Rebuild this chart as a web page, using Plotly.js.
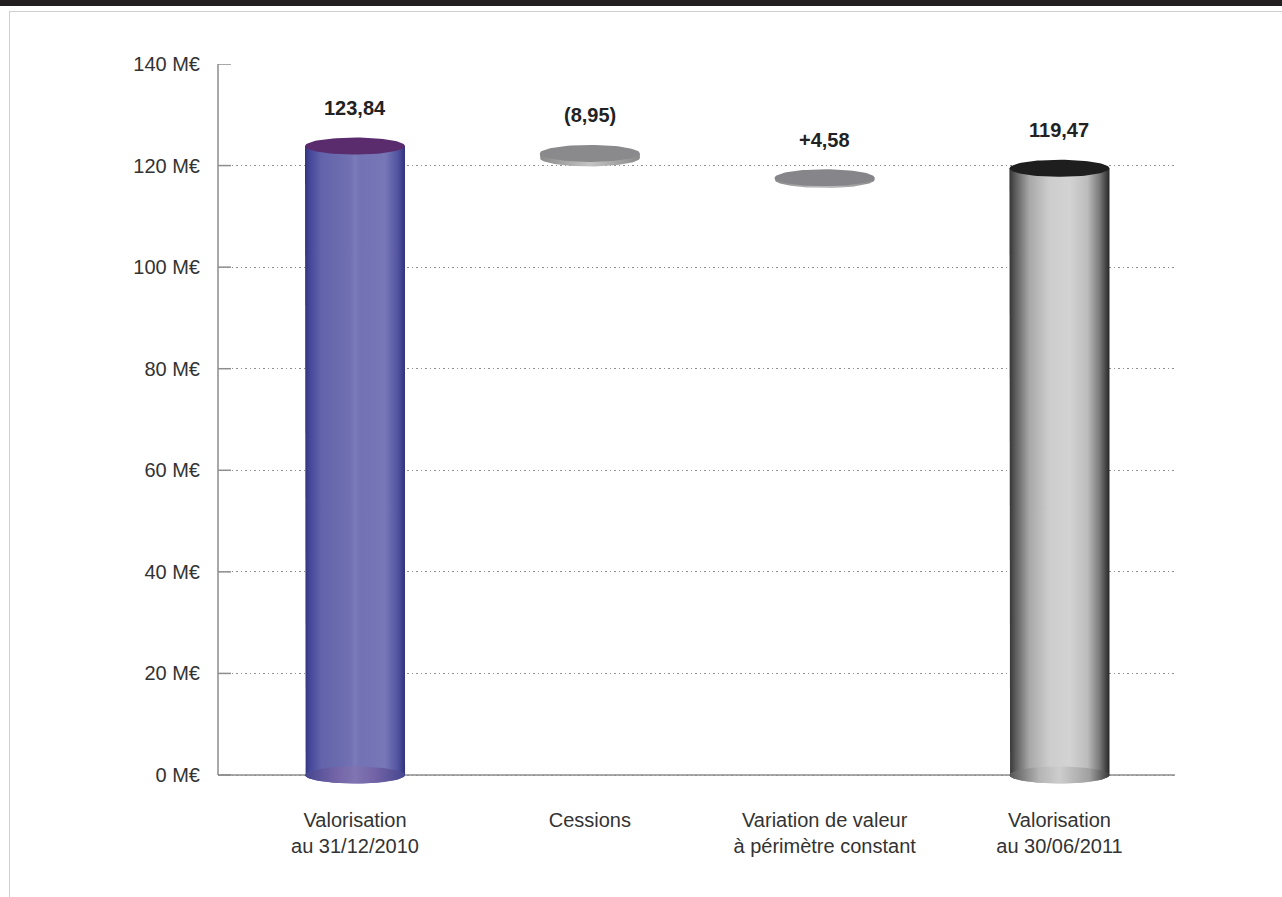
<!DOCTYPE html>
<html>
<head>
<meta charset="utf-8">
<script src="https://cdn.plot.ly/plotly-3.0.1.min.js"></script>
<style>
  html, body { margin: 0; padding: 0; background: #fff; }
  #topband { position: absolute; left: 0; top: 0; width: 1282px; height: 6px; background: #231f20; }
  #frame { position: absolute; left: 9px; top: 11px; width: 1273px; height: 886px;
           border-left: 1.5px solid #cfcfcf; border-top: 1.5px solid #cfcfcf; box-sizing: border-box; }
  #chart { position: absolute; left: 0; top: 0; width: 1282px; height: 897px; }
</style>
</head>
<body>
<div id="topband"></div>
<div id="frame"></div>
<div id="chart"></div>
<script>
// Bridge of the portfolio valuation (M€)
const categories = [
  'Valorisation<br>au 31/12/2010',
  'Cessions',
  'Variation de valeur<br>à périmètre constant',
  'Valorisation<br>au 30/06/2011'
];
const kinds = ['total', 'change', 'change', 'total'];
const values = [123.84, -8.95, 4.58, 119.47];
// height at which each change disc floats
const discLevels = [null, 122.4, 117.6, null];
const yTicks = [0, 20, 40, 60, 80, 100, 120, 140];
const yTickText = yTicks.map(v => v + ' M€');

// styling constants
const FONT = 'Liberation Sans, Arial, Helvetica, sans-serif';
const RX = 0.213;   // cylinder half width (x units)
const RY = 1.674;   // ellipse half height (y units)
const DISC_THICK = [0, 0.9, 0.35, 0];
const AXIS_GREY = '#8c8c8c';

const bodyScales = [
  [[0, '#33347e'], [0.05, '#45479a'], [0.16, '#6263aa'], [0.45, '#7070b2'], [0.5, '#7b7bba'],
   [0.55, '#7272b4'], [0.8, '#7777b8'], [0.93, '#5253a0'], [1, '#31327c']],
  null, null,
  [[0, '#353535'], [0.06, '#5c5c5c'], [0.2, '#a8a8a8'], [0.4, '#cdcdcd'], [0.6, '#d3d3d3'],
   [0.78, '#bcbcbc'], [0.9, '#7a7a7a'], [1, '#262626']]
];
const baseScales = [
  [[0, '#46468f'], [0.3, '#7263a6'], [0.5, '#8074b2'], [0.7, '#7263a6'], [1, '#46468f']],
  null, null,
  [[0, '#555'], [0.3, '#b5b5b5'], [0.5, '#cdcdcd'], [0.8, '#a0a0a0'], [1, '#383838']]
];
const capColors = ['#5a2c6d', '#8a8a8c', '#86868a', '#1e1e1e'];
const discEdge = [[0, '#8a8a8a'], [0.5, '#c4c4c4'], [1, '#8a8a8a']];

function ellipse(xc, yc, n = 90) {
  const xs = [], ys = [];
  for (let k = 0; k <= n; k++) {
    const t = 2 * Math.PI * k / n;
    xs.push(xc + RX * Math.cos(t));
    ys.push(yc + RY * Math.sin(t));
  }
  return { xs, ys };
}

// side wall from yBase up to yTop, closed by the lower half of the base ellipse
function wall(xc, yBase, yTop, n = 60) {
  const xs = [xc - RX], ys = [yTop];
  for (let k = 0; k <= n; k++) {
    const t = Math.PI * k / n;
    xs.push(xc - RX * Math.cos(t));
    ys.push(yBase - RY * Math.sin(t));
  }
  xs.push(xc + RX); ys.push(yTop);
  xs.push(xc - RX); ys.push(yTop);
  return { xs, ys };
}

function fillTrace(pts, fill) {
  const tr = { x: pts.xs, y: pts.ys, mode: 'lines', line: { width: 0, color: 'rgba(0,0,0,0)' },
               fill: 'toself', hoverinfo: 'skip', showlegend: false };
  if (Array.isArray(fill)) tr.fillgradient = { type: 'horizontal', colorscale: fill };
  else tr.fillcolor = fill;
  return tr;
}

function fmt(v, kind) {
  const s = Math.abs(v).toFixed(2).replace('.', ',');
  if (kind === 'total') return s;
  return v < 0 ? '(' + s + ')' : '+' + s;
}

const traces = [];
const annotations = [];
values.forEach((v, i) => {
  let top;
  if (kinds[i] === 'total') {
    top = v;
    traces.push(fillTrace(wall(i, 0, top), bodyScales[i]));
    traces.push(fillTrace(ellipse(i, 0), baseScales[i]));
  } else {
    top = discLevels[i];
    traces.push(fillTrace(wall(i, top - DISC_THICK[i], top), discEdge));
  }
  traces.push(fillTrace(ellipse(i, top), capColors[i]));
  annotations.push({
    x: i, y: top, xref: 'x', yref: 'y', text: fmt(v, kinds[i]), showarrow: false,
    yanchor: 'middle', yshift: 38,
    font: { family: FONT, size: 20, color: '#222', weight: 'bold' }
  });
});

// axis lines and the short solid tick stubs on the value axis
const shapes = [
  { type: 'line', xref: 'paper', yref: 'y', x0: 0, x1: 1, y0: 0, y1: 0,
    line: { color: AXIS_GREY, width: 1.5 }, layer: 'below' },
  { type: 'line', xref: 'paper', yref: 'y', x0: 0, x1: 0, y0: 0, y1: 140,
    line: { color: AXIS_GREY, width: 1.5 }, layer: 'below' }
];
yTicks.forEach(v => shapes.push({
  type: 'line', xref: 'paper', xsizemode: 'pixel', xanchor: 0, x0: 0, x1: 13,
  yref: 'y', y0: v, y1: v, line: { color: AXIS_GREY, width: 1.5 }, layer: 'below'
}));

const layout = {
  width: 1282, height: 897,
  margin: { l: 218, r: 107, t: 64, b: 111 },
  paper_bgcolor: 'rgba(0,0,0,0)', plot_bgcolor: 'rgba(0,0,0,0)',
  showlegend: false, hovermode: false,
  xaxis: {
    range: [-0.5835, 3.492], tickmode: 'array', tickvals: [0, 1, 2, 3], ticktext: categories,
    showgrid: false, zeroline: false, showline: false, ticks: '',
    tickfont: { family: FONT, size: 20, color: '#333' }, ticklabelstandoff: 20
  },
  yaxis: {
    range: [-2.166, 140], tickmode: 'array', tickvals: yTicks, ticktext: yTickText,
    ticks: '', showgrid: true, gridcolor: '#8f8f8f', griddash: '1.5px,3px', gridwidth: 1,
    zeroline: false, showline: false,
    tickfont: { family: FONT, size: 20, color: '#333' }, ticklabelstandoff: 17
  },
  shapes,
  annotations
};

Plotly.newPlot('chart', traces, layout, { staticPlot: true, displayModeBar: false });
</script>
</body>
</html>
